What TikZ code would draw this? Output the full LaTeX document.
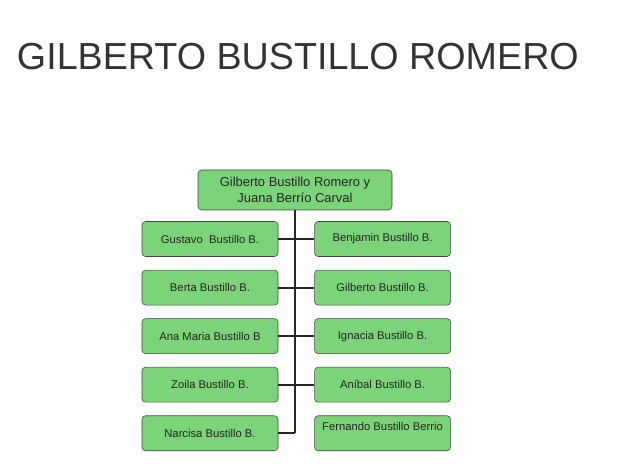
\documentclass[tikz,border=0pt]{standalone}
\usepackage{fontspec}
\setmainfont{Liberation Sans}
\usetikzlibrary{positioning}
\definecolor{familyGreen}{RGB}{124, 212, 122}
\definecolor{familyGray}{RGB}{70, 70, 70}
\definecolor{familyText}{RGB}{35, 35, 35}

\begin{document}
\begin{tikzpicture}[
  person/.style={
    draw=familyGray,
    fill=familyGreen,
    rounded corners=2.5pt,
    minimum width=3.4cm,
    minimum height=0.875cm,
    align=center,
    text=familyText,
    font=\fontsize{8pt}{9.6pt}\selectfont
  },
  parents/.style={
    person,
    minimum width=4.85cm,
    minimum height=1.0cm,
    font=\fontsize{9.2pt}{11.3pt}\selectfont
  },
  link/.style={line width=1.5pt,black!85}
]
  \useasboundingbox (0,0) rectangle (16,-11.9);
  \node[anchor=base west,font=\fontsize{26.8pt}{30pt}\selectfont,text=black!80] (title) at (0.3,-1.75) {GILBERTO BUSTILLO ROMERO};
  \node[parents] (top) at (7.375,-4.75) {Gilberto Bustillo Romero y\\Juana Berrío Carval};
  % left column
  \node[person] (gustavo) at (5.25,-5.975) {Gustavo\ \ Bustillo B.};
  \node[person,below=0.325cm of gustavo] (berta) {Berta Bustillo B.};
  \node[person,below=0.325cm of berta] (ana) {Ana Maria Bustillo B};
  \node[person,below=0.325cm of ana] (zoila) {Zoila Bustillo B.};
  \node[person,below=0.325cm of zoila] (narcisa) {Narcisa Bustillo B.};
  % right column
  \node[person,right=0.9cm of gustavo] (benjamin) {Benjamin Bustillo B.};
  \node[person,right=0.9cm of berta] (gilberto) {Gilberto Bustillo B.};
  \node[person,right=0.9cm of ana] (ignacia) {Ignacia Bustillo B.};
  \node[person,right=0.9cm of zoila] (anibal) {Aníbal Bustillo B.};
  \node[person,right=0.9cm of narcisa] (fernando) {\raisebox{0.35cm}{Fernando Bustillo Berrio}};
  \coordinate (trunk) at (top.south |- narcisa.east);
  \draw[link] (top) -- (trunk);
  \draw[link] (gustavo) -- (benjamin);
  \draw[link] (berta) -- (gilberto);
  \draw[link] (ana) -- (ignacia);
  \draw[link] (zoila) -- (anibal);
  \draw[link] (narcisa) -- (trunk);
\end{tikzpicture}
\end{document}
